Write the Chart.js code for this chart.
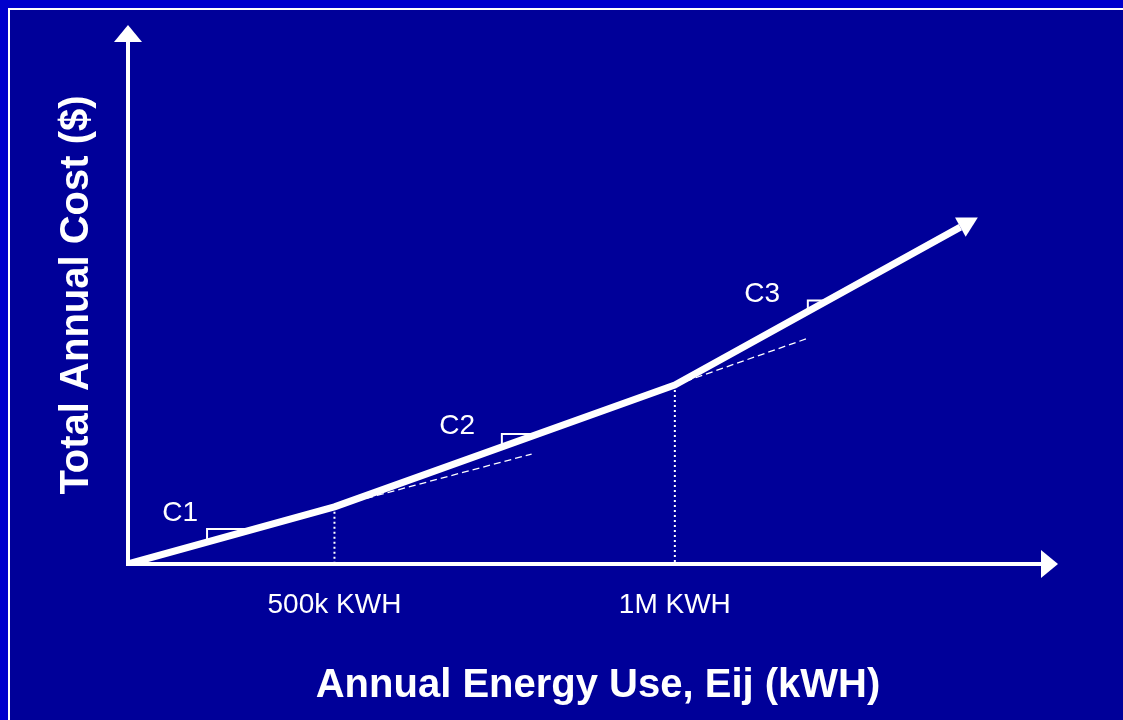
<!DOCTYPE html>
<html>
<head>
<meta charset="utf-8">
<script src="https://cdn.jsdelivr.net/npm/chart.js@4/dist/chart.umd.min.js"></script>
<style>
  html, body { margin: 0; padding: 0; background: #0000cc; overflow: hidden; }
  canvas { display: block; }
</style>
</head>
<body>
<canvas id="grafico" width="1123" height="720"></canvas>
<script>
// Datos del esquema (unidades del eje: 0-100 en cada eje)
const energia = [0, 22.2, 58.8, 89.5];
const costo = [0, 10.6, 33.2, 62.5];

// Etiquetas de los puntos de quiebre en el eje X
const etiquetasEje = ['500k KWH', '1M KWH'];
const quiebresX = [22.2, 58.8];
const quiebresY = [10.6, 33.2];

// Extensiones punteadas de cada tramo
const extensionX = [[22.2, 43.4], [58.8, 73.3]];
const extensionY = [[10.6, 20.4], [33.2, 42.0]];

// Marcas de pendiente (C1, C2, C3)
const pendienteX = [[8.5, 8.5, 13.6], [40.2, 40.2, 44.1], [73.1, 73.1, 75.3]];
const pendienteY = [[4.1, 6.5, 6.5], [21.7, 24.1, 24.1], [46.8, 48.9, 48.9]];
const etiquetasC = ['C1', 'C2', 'C3'];
const etiquetasCX = [5.6, 35.4, 68.2];
const etiquetasCY = [7.9, 24.1, 48.7];

const fuente = '"Liberation Sans", Arial, sans-serif';

function puntos(xs, ys) {
    return xs.map((x, i) => ({ x: x, y: ys[i] }));
}

const datasets = [];

// Curva principal
datasets.push({
    data: puntos(energia, costo),
    borderColor: '#ffffff',
    borderWidth: 7,
    borderJoinStyle: 'round',
    pointRadius: 0,
    tension: 0
});

// Extensiones discontinuas
extensionX.forEach((xs, i) => {
    datasets.push({
        data: puntos(xs, extensionY[i]),
        borderColor: '#ffffff',
        borderWidth: 1.3,
        borderDash: [7, 4],
        pointRadius: 0
    });
});

// Lineas verticales punteadas hasta el eje
quiebresX.forEach((x, i) => {
    datasets.push({
        data: puntos([x, x], [quiebresY[i], 0]),
        borderColor: '#ffffff',
        borderWidth: 2,
        borderDash: [2, 3],
        pointRadius: 0
    });
});

// Marcas de pendiente
pendienteX.forEach((xs, i) => {
    datasets.push({
        data: puntos(xs, pendienteY[i]),
        borderColor: '#ffffff',
        borderWidth: 2,
        borderJoinStyle: 'miter',
        pointRadius: 0
    });
});

function flecha(ctx, x, y, angulo, largo, medio) {
    ctx.save();
    ctx.translate(x, y);
    ctx.rotate(angulo);
    ctx.beginPath();
    ctx.moveTo(largo, 0);
    ctx.lineTo(0, -medio);
    ctx.lineTo(0, medio);
    ctx.closePath();
    ctx.fill();
    ctx.restore();
}

// Plugin para fondo, ejes con flechas y textos
const dibujoExtra = {
    id: 'dibujoExtra',
    beforeDraw(chart) {
        const ctx = chart.ctx;
        ctx.save();
        ctx.fillStyle = '#0000cc';
        ctx.fillRect(0, 0, chart.width, chart.height);
        ctx.fillStyle = '#000099';
        ctx.fillRect(10, 10, chart.width, chart.height);
        ctx.fillStyle = '#ffffff';
        ctx.fillRect(8, 8, chart.width, 2);
        ctx.fillRect(8, 8, 2, chart.height);
        ctx.restore();
    },
    beforeDatasetsDraw(chart) {
        const ctx = chart.ctx;
        const area = chart.chartArea;
        const x0 = chart.scales.x.getPixelForValue(0);
        const y0 = chart.scales.y.getPixelForValue(0);
        ctx.save();
        ctx.strokeStyle = '#ffffff';
        ctx.fillStyle = '#ffffff';
        ctx.lineWidth = 4;
        // eje Y
        ctx.beginPath();
        ctx.moveTo(x0, y0 + 2);
        ctx.lineTo(x0, area.top + 17);
        ctx.stroke();
        flecha(ctx, x0, area.top + 17, -Math.PI / 2, 17, 14);
        // eje X
        ctx.beginPath();
        ctx.moveTo(x0 - 2, y0);
        ctx.lineTo(area.right - 17, y0);
        ctx.stroke();
        flecha(ctx, area.right - 17, y0, 0, 17, 14);
        ctx.restore();
    },
    afterDatasetsDraw(chart) {
        const ctx = chart.ctx;
        const sx = chart.scales.x;
        const sy = chart.scales.y;
        const area = chart.chartArea;
        ctx.save();
        ctx.fillStyle = '#ffffff';

        // flecha al final de la curva
        const pts = chart.getDatasetMeta(0).data;
        const a = pts[pts.length - 2];
        const b = pts[pts.length - 1];
        flecha(ctx, b.x, b.y, Math.atan2(b.y - a.y, b.x - a.x), 20, 11);

        // etiquetas C1..C3
        ctx.font = '28px ' + fuente;
        ctx.textAlign = 'center';
        ctx.textBaseline = 'alphabetic';
        etiquetasC.forEach((t, i) => {
            ctx.fillText(t, sx.getPixelForValue(etiquetasCX[i]), sy.getPixelForValue(etiquetasCY[i]));
        });

        // etiquetas del eje X
        etiquetasEje.forEach((t, i) => {
            ctx.fillText(t, sx.getPixelForValue(quiebresX[i]), area.bottom + 49);
        });

        // titulos de los ejes
        ctx.font = 'bold 40px ' + fuente;
        ctx.fillText('Annual Energy Use, Eij (kWH)', 598, 697);
        ctx.translate(88, 295);
        ctx.rotate(-Math.PI / 2);
        ctx.fillText('Total Annual Cost ($)', 0, 0);
        ctx.restore();
    }
};

new Chart(document.getElementById('grafico'), {
    type: 'line',
    data: { datasets: datasets },
    options: {
        responsive: false,
        animation: false,
        events: [],
        layout: { padding: { left: 128, right: 65, top: 25, bottom: 156 } },
        plugins: {
            legend: { display: false },
            tooltip: { enabled: false }
        },
        scales: {
            x: { type: 'linear', min: 0, max: 100, display: false },
            y: { type: 'linear', min: 0, max: 100, display: false }
        },
        elements: { line: { fill: false } }
    },
    plugins: [dibujoExtra]
});
</script>
</body>
</html>
